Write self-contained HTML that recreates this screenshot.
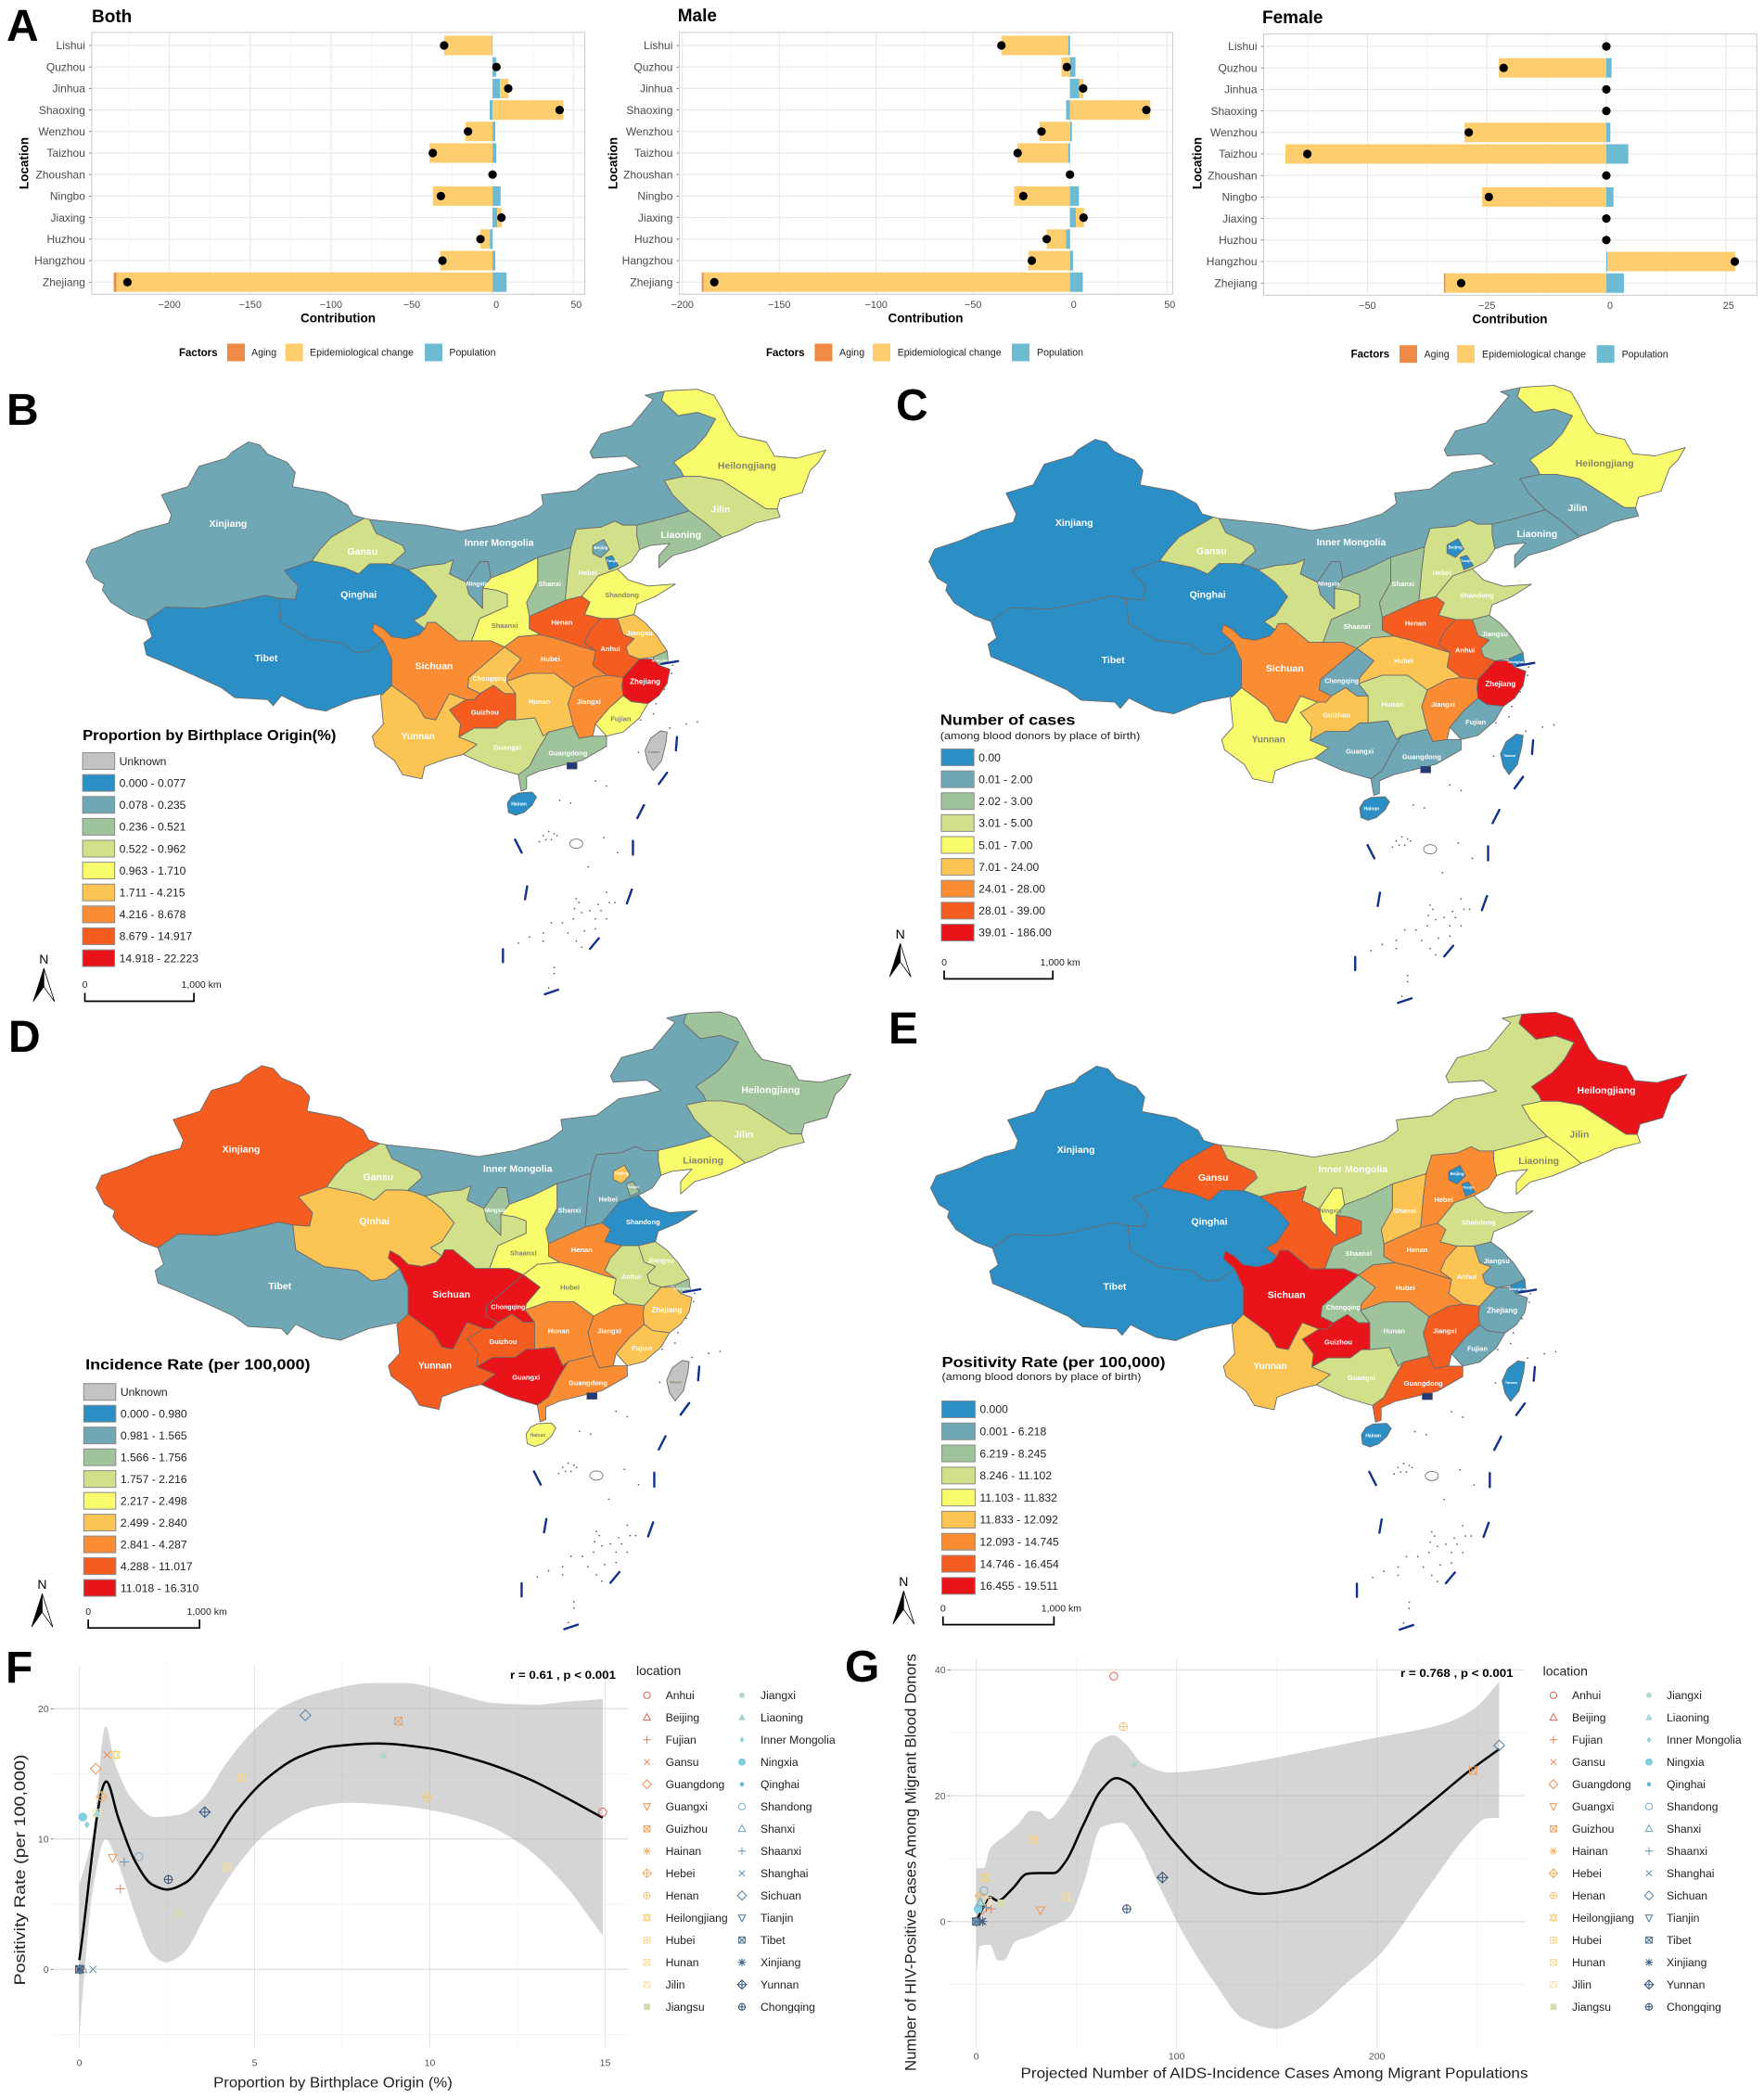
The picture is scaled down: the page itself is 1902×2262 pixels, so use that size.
<!DOCTYPE html>
<html lang="en">
<head>
<meta charset="utf-8">
<title>HIV burden among migrant blood donors in China</title>
<style>
html,body{margin:0;padding:0;background:#fff;}
svg{display:block;font-family:"Liberation Sans",sans-serif;}
</style>
</head>
<body>
<svg id="fig" xmlns="http://www.w3.org/2000/svg" width="1902" height="2262" viewBox="0 0 1902 2262">
  <rect width="1902" height="2262" fill="#fff"></rect>
  <g id="panel-a"></g>
  <g id="panel-b"></g>
  <g id="panel-c"></g>
  <g id="panel-d"></g>
  <g id="panel-e"></g>
  <g id="panel-f"></g>
  <g id="panel-g"></g>
  <g id="panel-letters"></g>
</svg>
<script>
/* ---------- Panel A data ---------- */
const cities = ['Lishui','Quzhou','Jinhua','Shaoxing','Wenzhou','Taizhou','Zhoushan','Ningbo','Jiaxing','Huzhou','Hangzhou','Zhejiang'];
const factorNames = ['Aging','Epidemiological change','Population'];
const bothTicks = [-200,-150,-100,-50,0,50];
const bothPopulation = [-0.3,2.2,4.6,-1.8,1.7,2.3,0,5,2.9,-1.7,1.7,8.7];
const bothEpi = [-29.7,0.2,5.3,43.7,-16.7,-39,0,-37,2.7,-5.8,-32.4,-232.8];
const bothAging = [0,0,0,0,0,0,0,0,0,0,0,-1.7];
const bothNet = [-30,2.4,9.7,41.5,-15.2,-37,0,-32,5.5,-7.5,-31,-226];
const maleTicks = [-200,-150,-100,-50,0,50];
const malePopulation = [-1,2.8,4.8,-2,1,-1,0,4.6,3,-2,1.6,6.6];
const maleEpi = [-34.2,-4.4,2.2,41.4,-15.7,-26.2,0,-28.8,4.2,-10,-21.5,-189];
const maleAging = [0,0,0,0,0,0,0,0,0,0,0,-1];
const maleNet = [-35.4,-1.6,6.8,39.4,-14.7,-27,0,-24.1,7,-12,-19.7,-183.5];
const femaleTicks = [-50,-25,0,25];
const femalePopulation = [0,1.1,0,0,0.85,4.6,0,1.5,0,0,0.25,3.7];
const femaleEpi = [0,-22.5,0,0,-29.7,-67.2,0,-26,0,0,26.7,-33.7];
const femaleAging = [0,0,0,0,0,0,0,0,0,0,0,-0.3];
const femaleNet = [0,-21.5,0,0,-28.8,-62.6,0,-24.6,0,0,26.9,-30.4];

/* ---------- Map class values (index into the shared palette; 9 = unknown) ---------- */
const provinceNames = ['Xinjiang','Tibet','Qinghai','Gansu','Inner Mongolia','Heilongjiang','Jilin','Liaoning','Hebei','Shanxi','Shaanxi','Ningxia','Shandong','Henan','Jiangsu','Anhui','Shanghai','Zhejiang','Fujian','Jiangxi','Hubei','Chongqing','Sichuan','Yunnan','Guizhou','Hunan','Guangxi','Guangdong','Hainan','Taiwan','Beijing','Tianjin'];
const classesB = [1,0,0,3,1,4,3,2,3,2,4,1,4,7,5,7,2,8,4,6,6,5,6,5,7,5,3,2,0,9,1,0];
const classesC = [0,0,0,3,1,4,1,1,3,2,2,1,3,7,2,7,0,8,1,6,5,1,6,4,5,3,1,1,0,0,0,0];
const classesD = [7,1,5,3,1,2,3,4,1,1,4,2,0,6,3,3,2,5,5,6,4,8,8,7,7,6,8,6,4,9,5,2];
const classesE = [0,0,0,7,3,8,4,4,6,5,2,4,3,6,1,5,0,1,1,7,6,2,8,5,8,2,3,7,0,0,0,0];
const legendB = ['Unknown','0.000 - 0.077','0.078 - 0.235','0.236 - 0.521','0.522 - 0.962','0.963 - 1.710','1.711 - 4.215','4.216 - 8.678','8.679 - 14.917','14.918 - 22.223'];
const legendC = ['0.00','0.01 - 2.00','2.02 - 3.00','3.01 - 5.00','5.01 - 7.00','7.01 - 24.00','24.01 - 28.00','28.01 - 39.00','39.01 - 186.00'];
const legendD = ['Unknown','0.000 - 0.980','0.981 - 1.565','1.566 - 1.756','1.757 - 2.216','2.217 - 2.498','2.499 - 2.840','2.841 - 4.287','4.288 - 11.017','11.018 - 16.310'];
const legendE = ['0.000','0.001 - 6.218','6.219 - 8.245','8.246 - 11.102','11.103 - 11.832','11.833 - 12.092','12.093 - 14.745','14.746 - 16.454','16.455 - 19.511'];

/* ---------- Scatter data ---------- */
const scatterLocations = ['Anhui','Beijing','Fujian','Gansu','Guangdong','Guangxi','Guizhou','Hainan','Hebei','Henan','Heilongjiang','Hubei','Hunan','Jilin','Jiangsu','Jiangxi','Liaoning','Inner Mongolia','Ningxia','Qinghai','Shandong','Shanxi','Shaanxi','Shanghai','Sichuan','Tianjin','Tibet','Xinjiang','Yunnan','Chongqing'];
const fTicksX = [0,5,10,15];
const fTicksY = [0,10,20];
const fProportion = [14.93,0.02,1.17,0.79,0.47,0.95,9.1,0.01,0.64,9.93,1.04,4.62,4.22,0.5,2.84,8.68,0.51,0.22,0.1,0,1.7,0.1,1.28,0.39,6.45,0.03,0,0.01,3.58,2.54];
const fPositivity = [12.07,0,6.18,16.46,15.4,8.55,19.05,0,13.25,13.2,16.46,14.73,7.84,12,4.23,16.37,12,11.1,11.69,0,8.65,0,8.24,0,19.5,0,0,0,12.07,6.9];
const fLineX = [0,0.77,1.11,1.59,2.07,2.5,3.03,3.68,4.48,5.28,6.24,7.21,8.49,9.94,11.38,12.82,13.79,14.93];
const fLineY = [0.71,14.42,11.64,8.31,6.53,6.13,6.65,8.79,12.11,14.49,16.27,17.1,17.34,16.98,16.03,14.61,13.3,11.64];
const fUpperX = [0,0.39,0.75,1.03,1.51,2.15,2.87,3.52,4.16,4.96,5.92,7.05,8.33,9.29,10.58,11.86,12.99,13.95,14.93];
const fUpperY = [6.41,10.45,18.65,15.68,13.06,11.69,11.88,13.06,15.68,18.29,20.31,21.38,21.97,21.97,21.26,20.43,20.31,20.55,20.74];
const fLowerX = [0,0.14,0.39,0.75,1.11,1.59,2.07,2.47,2.95,3.68,4.48,5.44,6.73,7.69,8.97,10.26,11.54,12.66,13.79,14.93];
const fLowerY = [-4.99,-0.48,6.18,9.98,8.08,4.28,1.19,0.55,1.19,4.51,7.84,10.69,12.47,12.78,12.59,12.11,11.16,9.5,6.65,2.61];
const gTicksX = [0,100,200];
const gTicksY = [0,20,40];
const gProjected = [68.6,0,7.4,2,3,32,248,0,2,73.4,4.4,28.7,45,5.6,12.4,78.7,2,0.3,0.9,0,3.8,2,5,2.7,261,0,0,3.2,92.9,75.1];
const gPositive = [39,0,2,0,2,1.8,24,0,4.08,31,7,13,3.9,3.3,2.9,25,3.2,1.7,2,0,4.9,3,2.2,0,28,0,0,0,7,2];
const gLineX = [0,3.3,6.8,10.7,18,25.4,31.4,38.8,44.7,53.6,62.4,69.8,75.7,86.1,97.9,112.7,127.5,142.3,160,177.8,201.5,225.1,245.9,261];
const gLineY = [0,2.2,3.9,3.3,5.2,7.6,7.7,7.7,9.6,15.5,20.9,22.8,22.1,18,13,8.1,5.4,4.4,5.2,7.9,12.5,18.4,23.9,27.4];
const gUpperX = [0,3.8,6.8,13.6,21,26.9,31.4,36.4,43.2,50.6,59.5,68.3,74.3,83.1,96.4,112.7,136.4,166,195.6,234,248.8,261];
const gUpperY = [8.5,8.5,11.6,13.5,15.5,17.6,17.5,16.3,18.4,22.4,28.3,29.6,28.3,25.1,23.7,24.1,25.3,27.1,29,31.5,33.9,38.1];
const gLowerX = [0,1.8,6.8,10.7,13.6,19.5,28.4,35.8,46.2,53.6,62.4,72.8,80.2,92,103.8,118.6,133.4,149.7,166,183.7,201.5,225.1,245.9,254.7,261];
const gLowerY = [-8.4,-3.9,-3.7,-6.2,-6.2,-3.2,-2.2,-1,0.7,6.1,15,15.7,13,5.2,-2.2,-9.6,-15.5,-17.1,-15,-10.1,-5.2,5.2,14,16.4,16.5];

/* ---------- Helpers ---------- */
const NS = 'http://www.w3.org/2000/svg';
function mk(tag, attrs, parent) {
  const e = document.createElementNS(NS, tag);
  for (const k in attrs) e.setAttribute(k, attrs[k]);
  parent.appendChild(e);
  return e;
}
function txt(parent, x, y, s, size, o) {
  o = o || {};
  const a = {x: x, y: y, 'font-size': size, fill: o.fill || '#000', 'font-weight': o.bold ? 'bold' : 'normal', 'text-anchor': o.anchor || 'start'};
  if (o.mid) a.dy = '.35em';
  if (o.len) { a.textLength = o.len; a.lengthAdjust = 'spacingAndGlyphs'; }
  if (o.transform) a.transform = o.transform;
  const e = mk('text', a, parent);
  e.textContent = s;
  return e;
}
/* monotone cubic through points whose x runs in one direction */
function segs(p) {
  const n = p.length, s = [], m = [];
  for (let i = 0; i < n - 1; i++) s.push((p[i + 1][1] - p[i][1]) / (p[i + 1][0] - p[i][0]));
  m[0] = s[0];
  m[n - 1] = s[n - 2];
  for (let i = 1; i < n - 1; i++) {
    m[i] = s[i - 1] * s[i] <= 0 ? 0 : 2 * s[i - 1] * s[i] / (s[i - 1] + s[i]);
  }
  let d = '';
  for (let i = 0; i < n - 1; i++) {
    const dx = (p[i + 1][0] - p[i][0]) / 3;
    d += 'C' + (p[i][0] + dx).toFixed(1) + ' ' + (p[i][1] + m[i] * dx).toFixed(1) + ' ' +
         (p[i + 1][0] - dx).toFixed(1) + ' ' + (p[i + 1][1] - m[i + 1] * dx).toFixed(1) + ' ' +
         p[i + 1][0].toFixed(1) + ' ' + p[i + 1][1].toFixed(1);
  }
  return d;
}
function fmt(v) { return (v < 0 ? '\u2212' : '') + Math.abs(v); }

/* ---------- Panel A ---------- */
const gA = document.getElementById('panel-a');
const factorColors = {aging: '#ef8a47', epi: '#fdcd6e', pop: '#6dbad3'};
function decomposition(cfg, ticks, pop, epi, aging, net) {
  const g = mk('g', {}, gA);
  
  
  const X = v => cfg.zero + v * cfg.k;
  const Y = i => cfg.top0 + i * 23.2;
  const panelBg = mk('rect', {x: cfg.l, y: cfg.t, width: cfg.r - cfg.l, height: cfg.b - cfg.t, fill: '#fff'}, g);
  
  
  const step = ticks[1] - ticks[0];
  for (let v = ticks[0] - step; v <= ticks[ticks.length - 1] + step; v += step / 2) {
    if (X(v) < cfg.l || X(v) > cfg.r) continue;
    const major = ticks.indexOf(v) >= 0;
    const gl = mk('line', {x1: X(v), x2: X(v), y1: cfg.t, y2: cfg.b, stroke: major ? '#e6e6e6' : '#f1f1f1', 'stroke-width': major ? 1 : 0.7}, g);
    
    
  }
  cities.forEach((c, i) => {
    const gl = mk('line', {x1: cfg.l, x2: cfg.r, y1: Y(i), y2: Y(i), stroke: '#e9e9e9', 'stroke-width': 1.2}, g);
    
    
  });
  cities.forEach((c, i) => {
    let posEnd = 0, negEnd = 0;
    [['pop', pop[i]], ['epi', epi[i]], ['aging', aging[i]]].forEach(s => {
      const v = s[1];
      if (!v) return;
      let a, b;
      if (v > 0) { a = posEnd; b = posEnd + v; posEnd = b; } else { a = negEnd; b = negEnd + v; negEnd = b; }
      const bar = mk('rect', {x: Math.min(X(a), X(b)), y: Y(i) - 10.5, width: Math.abs(X(b) - X(a)), height: 21, fill: factorColors[s[0]]}, g);
      
      
    });
  });
  cities.forEach((c, i) => {
    const dot = mk('circle', {cx: X(net[i]), cy: Y(i), r: 4.6, fill: '#000'}, g);
    
    
    const tick = mk('line', {x1: cfg.l - 3, x2: cfg.l, y1: Y(i), y2: Y(i), stroke: '#666', 'stroke-width': 0.8}, g);
    
    
    const lab = txt(g, cfg.l - 7, Y(i), c, 12, {anchor: 'end', mid: true, fill: '#4a4a4a'});
    
    
  });
  const frame = mk('rect', {x: cfg.l, y: cfg.t, width: cfg.r - cfg.l, height: cfg.b - cfg.t, fill: 'none', stroke: '#c9c9c9', 'stroke-width': 1}, g);
  
  
  ticks.forEach(v => {
    const dx = v === 0 ? 4 : (v > 0 ? 3 : 0);
    const lab = txt(g, X(v) + dx, cfg.b + 11, fmt(v), 10.8, {anchor: 'middle', mid: true, fill: '#4a4a4a'});
    
    
  });
  const title = txt(g, cfg.titleX, cfg.titleY, cfg.title, 19, {bold: true, mid: true});
  
  
  const xt = txt(g, cfg.xTitleX, cfg.b + 25.5, 'Contribution', 13.5, {bold: true, anchor: 'middle', mid: true});
  
  
  const yt = txt(g, cfg.yTitleX, 176, 'Location', 13.5, {bold: true, anchor: 'middle', mid: true, transform: 'rotate(-90 ' + cfg.yTitleX + ' 176)'});
  
  
  const fh = txt(g, cfg.leg[0], cfg.legY, 'Factors', 11.5, {bold: true, mid: true});
  
  
  [factorColors.aging, factorColors.epi, factorColors.pop].forEach((col, i) => {
    const sw = mk('rect', {x: cfg.leg[1 + i * 2], y: cfg.legY - 9.5, width: 19, height: 19, fill: col}, g);
    
    
    const lt = txt(g, cfg.leg[2 + i * 2], cfg.legY, factorNames[i], 10.6, {mid: true, fill: '#222'});
    
    
  });
}
decomposition({key: 'both', title: 'Both', l: 98.9, r: 630.5, t: 35, b: 317.3, zero: 531.1, k: 1.742, top0: 49, titleX: 99, titleY: 17.5, xTitleX: 364.5, yTitleX: 26, legY: 380, leg: [193, 245, 271, 307.7, 334, 458, 484.4]}, bothTicks, bothPopulation, bothEpi, bothAging, bothNet);
decomposition({key: 'male', title: 'Male', l: 732.4, r: 1264.4, t: 35, b: 317.3, zero: 1153.7, k: 2.09, top0: 49, titleX: 730.7, titleY: 16.5, xTitleX: 998, yTitleX: 661, legY: 380, leg: [826, 878.4, 905, 941, 967.7, 1091, 1118]}, maleTicks, malePopulation, maleEpi, maleAging, maleNet);
decomposition({key: 'female', title: 'Female', l: 1362.5, r: 1894.3, t: 36.7, b: 318.3, zero: 1732, k: 5.15, top0: 50, titleX: 1361, titleY: 18.5, xTitleX: 1628, yTitleX: 1291, legY: 381.7, leg: [1456.6, 1509, 1535.6, 1571, 1598, 1721.7, 1748.6]}, femaleTicks, femalePopulation, femaleEpi, femaleAging, femaleNet);

/* ---------- Maps: shared outline geometry ---------- */
const palette = ['#2b8fc5','#6fa7b5','#9fc39a','#d2e08a','#f8fb6b','#fcc452','#fa8c33','#f45c20','#e81419','#c3c3c3'];
const outlines = {
 'Xinjiang':[380,165,400,172,415,195,450,215,465,240,460,275,520,290,560,320,570,345,590,353,530,400,510,430,495,458,445,482,470,520,465,553,435,550,410,543,340,565,300,575,230,572,195,605,165,590,130,560,115,530,118,515,100,500,85,460,95,430,140,410,180,385,235,365,240,345,222,295,270,275,290,225,340,205,350,190],
 'Tibet':[195,605,230,572,300,575,340,565,410,543,435,550,440,610,490,650,550,660,575,685,600,680,625,655,640,700,640,765,625,785,605,790,570,800,520,828,485,820,440,790,425,815,415,800,355,795,330,770,290,745,240,715,195,690,190,660,205,645],
 'Qinghai':[445,482,495,458,555,475,580,490,600,465,630,465,660,470,700,510,722,545,700,590,680,605,700,625,690,640,665,650,640,645,625,625,608,612,605,630,625,655,600,680,575,685,550,660,490,650,440,610,435,550,465,553,470,520],
 'Gansu':[590,353,600,356,612,390,660,420,665,435,640,465,670,480,700,470,735,465,752,455,745,490,775,510,780,540,805,575,805,525,830,530,850,540,850,570,825,585,800,600,785,655,760,655,720,610,705,610,700,625,680,605,700,590,722,545,700,510,660,470,630,465,600,465,580,490,555,475,495,458,510,430,530,400],
 'Inner Mongolia':[600,356,700,370,765,385,830,370,890,345,915,320,912,295,975,285,1015,245,1060,235,1090,225,1065,200,1005,205,1000,190,1020,145,1075,125,1115,60,1100,50,1135,40,1130,62,1160,100,1195,92,1228,108,1210,150,1190,180,1152,215,1165,235,1170,250,1135,260,1150,295,1180,335,1130,355,1085,370,1060,370,1045,360,1020,375,975,380,965,425,905,450,860,480,820,500,815,460,800,460,785,490,775,510,745,490,752,455,735,465,700,470,670,480,640,465,665,435,660,420,612,390],
 'Heilongjiang':[1130,62,1135,40,1150,38,1195,35,1225,50,1240,85,1255,125,1270,150,1320,165,1335,200,1375,205,1428,185,1415,215,1400,235,1385,290,1345,305,1340,330,1320,330,1280,295,1240,260,1200,250,1170,250,1165,235,1152,215,1190,180,1210,150,1228,108,1195,92,1160,100],
 'Jilin':[1135,260,1170,250,1200,250,1240,260,1280,295,1320,330,1340,330,1345,350,1300,365,1270,385,1240,400,1210,365,1180,335,1150,295],
 'Liaoning':[1180,335,1210,365,1240,400,1225,410,1190,430,1150,445,1125,475,1125,445,1145,415,1110,420,1090,430,1085,395,1085,370,1130,355],
 'Hebei':[975,380,1020,375,1045,360,1060,370,1085,370,1085,395,1090,430,1075,460,1050,478,1015,495,985,545,955,555,960,480,965,425],
 'Shanxi':[905,450,965,425,960,480,955,555,890,595,885,560,905,510],
 'Shaanxi':[905,450,905,510,885,560,890,595,890,625,910,640,870,645,845,670,820,655,785,655,800,600,825,585,850,570,850,540,830,530,805,525,820,500,860,480],
 'Ningxia':[775,510,785,490,800,460,815,460,820,500,805,525,805,575,780,540],
 'Shandong':[1015,495,1050,478,1070,505,1105,520,1155,515,1120,545,1085,565,1080,590,1050,600,1020,600,990,590,1000,560,985,545],
 'Henan':[890,595,955,555,985,545,1000,560,990,590,1020,600,1000,630,990,660,1010,680,985,670,940,650,910,640,890,625],
 'Jiangsu':[1050,600,1080,590,1100,610,1120,640,1140,680,1115,695,1090,700,1070,690,1065,670,1080,650,1060,640],
 'Anhui':[1020,600,1050,600,1060,640,1080,650,1065,670,1070,690,1090,700,1060,745,1030,740,1005,715,1010,680,990,660,1000,630],
 'Shanghai':[1115,695,1140,680,1142,705,1125,715,1115,700],
 'Zhejiang':[1090,700,1115,700,1125,715,1145,725,1140,760,1125,790,1105,810,1075,805,1060,790,1058,765,1060,745],
 'Fujian':[1060,790,1075,805,1105,810,1090,845,1060,880,1030,890,1010,860,1035,820],
 'Jiangxi':[970,770,1005,745,1030,740,1060,745,1058,765,1060,790,1035,820,1010,860,1005,890,980,895,970,865,960,810],
 'Hubei':[870,645,910,640,940,650,985,670,1010,680,1005,715,1030,740,1005,745,970,770,935,735,890,735,848,755,850,740,875,700,845,670],
 'Chongqing':[845,670,875,700,850,740,848,755,865,785,845,785,825,765,800,785,778,770,780,745],
 'Sichuan':[625,655,605,630,608,612,625,625,640,645,665,650,690,640,700,625,705,610,720,610,760,655,785,655,820,655,845,670,780,745,778,770,800,785,790,800,775,800,745,785,735,810,720,850,700,845,685,810,640,765,640,700],
 'Yunnan':[640,765,685,810,700,845,720,850,735,810,745,785,775,800,745,825,765,860,762,892,795,910,770,935,740,945,700,965,695,995,660,985,645,950,610,915,605,890,625,860,620,790,625,785],
 'Guizhou':[745,825,775,800,790,800,800,785,825,765,845,785,865,785,865,850,850,850,830,870,790,870,762,892,765,860],
 'Hunan':[865,785,848,755,890,735,935,735,970,770,960,810,970,865,925,880,915,890,900,845,865,850],
 'Guangxi':[762,892,790,870,830,870,850,850,865,850,900,845,915,890,925,880,905,925,890,965,870,985,820,965,770,935,795,910],
 'Guangdong':[925,880,970,865,980,895,1005,890,1030,890,1030,915,985,950,955,960,910,975,885,990,885,1020,875,1025,870,985,890,965,905,925],
 'Hainan':[870,1030,895,1028,903,1040,895,1060,880,1078,865,1085,852,1078,850,1055,858,1038],
 'Taiwan':[1128,877,1140,880,1138,905,1130,950,1115,975,1105,955,1100,925,1110,895],
 'Beijing':[1005,420,1025,405,1035,430,1020,450,1005,440],
 'Tianjin':[1028,450,1040,445,1052,470,1035,480]
};
const labelSpots = {'Xinjiang':[343,366,10.5],'Tibet':[412,697,10.5],'Qinghai':[580,540,10.5],'Gansu':[587,434,10.5],'Inner Mongolia':[835,413,10.5],'Heilongjiang':[1285,223,10.5],'Jilin':[1237,330,10.5],'Liaoning':[1165,393,10.5],'Hebei':[996,487,7.5],'Shanxi':[927,514,7.5],'Shaanxi':[845,617,7.5],'Ningxia':[795,514,6.5],'Shandong':[1058,542,7.5],'Henan':[949,609,7.5],'Jiangsu':[1090,635,7.5],'Anhui':[1037,674,7.5],'Shanghai':[1127,703,4],'Zhejiang':[1100,755,8],'Fujian':[1056,847,7.5],'Jiangxi':[998,805,7.5],'Hubei':[928,700,7.5],'Chongqing':[818,748,7],'Sichuan':[717,717,10.5],'Yunnan':[688,889,10],'Guizhou':[809,831,7.5],'Hunan':[908,805,7.5],'Guangxi':[850,918,7.5],'Guangdong':[960,931,7.5],'Hainan':[871,1057,5],'Taiwan':[1116,929,4],'Beijing':[1020,425,4.5],'Tianjin':[1040,458,4]};
const dashes = [[1130,712,1160,705],[1158,892,1156,925],[1140,980,1125,1008],[1098,1060,1086,1092],[1078,1148,1078,1182],[1076,1268,1067,1302],[1016,1388,1000,1414],[842,1415,842,1447],[942,1515,918,1526],[886,1260,882,1292],[864,1145,876,1177]];
const islets = [[1010,1000],[1030,1013],[965,1055],[945,1048],[915,1135],[925,1125],[935,1130],[930,1145],[920,1145],[940,1135],[908,1150],[1025,1140],[1050,1177],[997,1212],[975,1290],[980,1300],[972,1315],[985,1325],[1015,1305],[1035,1300],[1045,1300],[1030,1275],[1000,1320],[1010,1340],[1030,1340],[1020,1320],[970,1340],[950,1350],[930,1350],[915,1375],[960,1375],[990,1370],[1010,1365],[890,1385],[870,1400],[915,1395],[975,1395],[985,1410],[935,1460],[935,1475],[925,1510],[1145,870],[1175,860],[1195,855],[1088,930],[1092,850],[1115,835],[1150,715],[1148,735],[1135,775],[1120,810]];

function drawMap(cfg, classes) {
  const root = document.getElementById(cfg.id);
  const tx = (x) => cfg.ox + (cfg.ax + (x - 82) * cfg.m) / cfg.sx;
  const ty = (y) => cfg.oy + (cfg.ay + (y - 186) * cfg.m) / cfg.sy;
  const mapG = mk('g', {}, root);
  
  
  provinceNames.forEach((name, i) => {
    const c = outlines[name];
    const pts = [];
    for (let k = 0; k < c.length; k += 2) pts.push(tx(c[k]).toFixed(1) + ',' + ty(c[k + 1]).toFixed(1));
    const p = mk('polygon', {points: pts.join(' '), fill: palette[classes[i]], stroke: '#6b6b6b', 'stroke-width': 0.9, 'stroke-linejoin': 'round'}, mapG);
    
    
  });
  const hk = mk('rect', {x: tx(958), y: ty(955), width: 11, height: 7, fill: '#243a78', stroke: '#555', 'stroke-width': 0.5}, mapG);
  
  
  dashes.forEach(d => {
    const l = mk('line', {x1: tx(d[0]), y1: ty(d[1]), x2: tx(d[2]), y2: ty(d[3]), stroke: '#13308a', 'stroke-width': 2.4, 'stroke-linecap': 'round'}, mapG);
    
    
  });
  islets.forEach(d => {
    const c = mk('circle', {cx: tx(d[0]), cy: ty(d[1]), r: 0.9, fill: '#666'}, mapG);
    
    
  });
  const ring = mk('ellipse', {cx: tx(975), cy: ty(1155), rx: 7, ry: 5, fill: 'none', stroke: '#666', 'stroke-width': 0.8}, mapG);
  
  
  provinceNames.forEach((name, i) => {
    const s = labelSpots[name];
    const cls = classes[i];
    const col = (cls === 4 || cls === 9) ? '#85856a' : '#fff';
    const shown = (cfg.id === 'panel-d' && name === 'Qinghai') ? 'Qinhai' : name;
    const t = txt(mapG, tx(s[0]), ty(s[1]), shown, s[2], {anchor: 'middle', mid: true, fill: col, bold: true});
    
    
  });

  /* legend, drawn in reference-crop coordinates */
  const L = v => cfg.ox + v / cfg.sx;
  const T = v => cfg.oy + v / cfg.sy;
  const leg = mk('g', {}, root);
  
  
  const title = txt(leg, L(cfg.title[1]), T(cfg.title[3]), cfg.title[0], 16, {bold: true, len: (cfg.title[2] - cfg.title[1]) / cfg.sx});
  
  
  if (cfg.sub) {
    const sub = txt(leg, L(cfg.sub[0]), T(cfg.sub[2]), '(among blood donors by place of birth)', 11, {fill: '#222', len: (cfg.sub[1] - cfg.sub[0]) / cfg.sx});
    
    
  }
  cfg.labels.forEach((lab, i) => {
    const y = T(cfg.rows0 + i * cfg.rowStep);
    const colorIdx = cfg.unknownFirst ? (i === 0 ? 9 : i - 1) : i;
    const sw = mk('rect', {x: L(cfg.sw[0]), y: y - 9, width: (cfg.sw[1] - cfg.sw[0]) / cfg.sx, height: 18, fill: palette[colorIdx], stroke: '#8a8a8a', 'stroke-width': 1}, leg);
    
    
    const t = txt(leg, L(cfg.sw[1]) + 5, y, lab, 12.2, {mid: true, fill: '#222'});
    
    
  });
  /* north arrow */
  const nx = L(cfg.north[0]), ny = T(cfg.north[1]);
  const n = txt(root, nx, ny, 'N', 14, {anchor: 'middle', mid: true});
  
  
  const a0 = ny + 10, a1 = ny + 46, a2 = ny + 30;
  const left = mk('polygon', {points: nx + ',' + a0 + ' ' + (nx - 11.5) + ',' + a1 + ' ' + nx + ',' + a2, fill: '#000', stroke: '#000', 'stroke-width': 0.6}, root);
  
  
  const right = mk('polygon', {points: nx + ',' + a0 + ' ' + (nx + 11.5) + ',' + a1 + ' ' + nx + ',' + a2, fill: '#fff', stroke: '#000', 'stroke-width': 0.8}, root);
  
  
  /* scale bar */
  const sx0 = L(cfg.scale[0]), sx1 = L(cfg.scale[1]), sy = T(cfg.scale[2]);
  const bar = mk('polyline', {points: sx0 + ',' + (sy - 9) + ' ' + sx0 + ',' + sy + ' ' + sx1 + ',' + sy + ' ' + sx1 + ',' + (sy - 9), fill: 'none', stroke: '#000', 'stroke-width': 1.7}, root);
  
  
  const s0 = txt(root, sx0, sy - 18, '0', 10.5, {anchor: 'middle', mid: true, fill: '#222'});
  
  
  const s1 = txt(root, sx1 + 8, sy - 18, '1,000 km', 10.5, {anchor: 'middle', mid: true, fill: '#222'});
  
  
}
drawMap({id: 'panel-b', ox: 0, oy: 400, sx: 1.65, sy: 2.24, ax: 150, ay: 192, m: 0.98, title: ['Proportion by Birthplace Origin(%)', 147, 598, 892], labels: legendB, unknownFirst: true, rows0: 942, rowStep: 52.9, sw: [147, 204], north: [78, 1420], scale: [151, 345, 1522]}, classesB);
drawMap({id: 'panel-c', ox: 950, oy: 400, sx: 1.647, sy: 2.24, ax: 82, ay: 186, m: 1, title: ['Number of cases', 105, 345, 855], sub: [105, 460, 889], labels: legendC, unknownFirst: false, rows0: 933, rowStep: 52.9, sw: [107, 165], north: [34, 1360], scale: [112, 305, 1468]}, classesC);
drawMap({id: 'panel-d', ox: 0, oy: 1090, sx: 1.65, sy: 2.24, ax: 168, ay: 153, m: 1, title: ['Incidence Rate (per 100,000)', 152, 552, 866], labels: legendD, unknownFirst: true, rows0: 920, rowStep: 52.6, sw: [149, 206], north: [75, 1385], scale: [157, 355, 1490]}, classesD);
drawMap({id: 'panel-e', ox: 950, oy: 1090, sx: 1.647, sy: 2.24, ax: 85, ay: 154, m: 1, title: ['Positivity Rate  (per 100,000)', 108, 505, 860], sub: [108, 462, 892], labels: legendE, unknownFirst: false, rows0: 962, rowStep: 53.3, sw: [108, 167], north: [40, 1378], scale: [110, 307, 1482]}, classesE);

/* ---------- Panels F & G ---------- */
const markerShapes = ['circle','tri','plus','cross','diamond','itri','sqx','star','diaplus','cirplus','david','sqplus','sqx','sqtri','fsquare','fcircle','ftri','fdiamond','bigcircle','scircle','circle','tri','plus','cross','diamond','itri','sqx','star','diaplus','cirplus'];
const markerColors = ['#d8635c','#dc6a58','#e6825e','#ea8c60','#ea8e52','#eb9a56','#e8a262','#f0b468','#efb568','#f3c878','#f4cf7a','#f6d68f','#f6dca0','#f7e4b8','#d3dcb4','#b5d6c6','#a6d8d8','#96d2d8','#84cde0','#6cb8cc','#7ab0c4','#6ea4bc','#6498b4','#5c8cac','#54809f','#4c7496','#44688c','#3c5c84','#38547c','#345074'];
function markerPath(shape, x, y, r) {
  const c = (cx, cy, rr) => 'M' + (cx - rr) + ' ' + cy + 'a' + rr + ' ' + rr + ' 0 1 0 ' + 2 * rr + ' 0a' + rr + ' ' + rr + ' 0 1 0 ' + -2 * rr + ' 0Z';
  const plus = 'M' + (x - r) + ' ' + y + 'H' + (x + r) + 'M' + x + ' ' + (y - r) + 'V' + (y + r);
  const cross = 'M' + (x - r * .75) + ' ' + (y - r * .75) + 'L' + (x + r * .75) + ' ' + (y + r * .75) + 'M' + (x + r * .75) + ' ' + (y - r * .75) + 'L' + (x - r * .75) + ' ' + (y + r * .75);
  const tri = 'M' + x + ' ' + (y - r) + 'L' + (x + r * .9) + ' ' + (y + r * .7) + 'L' + (x - r * .9) + ' ' + (y + r * .7) + 'Z';
  const itri = 'M' + x + ' ' + (y + r) + 'L' + (x + r * .9) + ' ' + (y - r * .7) + 'L' + (x - r * .9) + ' ' + (y - r * .7) + 'Z';
  const dia = 'M' + x + ' ' + (y - r * 1.15) + 'L' + (x + r * 1.15) + ' ' + y + 'L' + x + ' ' + (y + r * 1.15) + 'L' + (x - r * 1.15) + ' ' + y + 'Z';
  const q = r * .8;
  const sq = 'M' + (x - q) + ' ' + (y - q) + 'H' + (x + q) + 'V' + (y + q) + 'H' + (x - q) + 'Z';
  switch (shape) {
    case 'circle': return c(x, y, r * .85);
    case 'tri': return tri;
    case 'plus': return plus;
    case 'cross': return cross;
    case 'diamond': return dia;
    case 'itri': return itri;
    case 'sqx': return sq + 'M' + (x - q) + ' ' + (y - q) + 'L' + (x + q) + ' ' + (y + q) + 'M' + (x + q) + ' ' + (y - q) + 'L' + (x - q) + ' ' + (y + q);
    case 'star': return plus + cross;
    case 'diaplus': return dia + plus;
    case 'cirplus': return c(x, y, r * .85) + plus;
    case 'david': return tri + itri;
    case 'sqplus': return sq + 'M' + (x - q) + ' ' + y + 'H' + (x + q) + 'M' + x + ' ' + (y - q) + 'V' + (y + q);
    case 'sqtri': return sq + 'M' + (x - q) + ' ' + (y + q) + 'L' + x + ' ' + (y - q) + 'L' + (x + q) + ' ' + (y + q);
    case 'fsquare': return sq;
    case 'fcircle': return c(x, y, r * .7);
    case 'ftri': return tri;
    case 'fdiamond': return 'M' + x + ' ' + (y - r * .8) + 'L' + (x + r * .6) + ' ' + y + 'L' + x + ' ' + (y + r * .8) + 'L' + (x - r * .6) + ' ' + y + 'Z';
    case 'bigcircle': return c(x, y, r * .95);
    case 'scircle': return c(x, y, r * .55);
  }
  return c(x, y, r);
}
const filledShapes = ['fsquare','fcircle','ftri','fdiamond','bigcircle','scircle'];

function scatter(cfg, xs, ys, lineX, lineY, upX, upY, loX, loY, ticksX, ticksY) {
  const root = document.getElementById(cfg.id);
  const X = cfg.X, Y = cfg.Y;
  const stepX = ticksX[1] - ticksX[0], stepY = ticksY[1] - ticksY[0];
  for (let v = ticksX[0]; v <= ticksX[ticksX.length - 1] + stepX; v += stepX / 2) {
    if (X(v) > cfg.r) continue;
    const major = ticksX.indexOf(v) >= 0;
    const gl = mk('line', {x1: X(v), x2: X(v), y1: cfg.t, y2: cfg.b, stroke: major ? '#e6e6e6' : '#f2f2f2', 'stroke-width': major ? 1 : 0.8}, root);
    
    
  }
  for (let v = ticksY[0] - stepY; v <= ticksY[ticksY.length - 1] + stepY / 2; v += stepY / 2) {
    if (Y(v) > cfg.b || Y(v) < cfg.t) continue;
    const major = ticksY.indexOf(v) >= 0;
    const gl = mk('line', {x1: cfg.l, x2: cfg.r, y1: Y(v), y2: Y(v), stroke: major ? '#e4e4e4' : '#f2f2f2', 'stroke-width': major ? 1.5 : 0.9}, root);
    
    
  }
  const up = upX.map((v, i) => [X(v), Y(upY[i])]);
  const lo = loX.map((v, i) => [X(v), Y(loY[i])]).reverse();
  const ribbon = mk('path', {d: 'M' + up[0][0] + ' ' + up[0][1] + segs(up) + 'L' + lo[0][0] + ' ' + lo[0][1] + segs(lo) + 'Z', fill: 'rgba(175,175,175,.52)'}, root);
  
  
  const ln = lineX.map((v, i) => [X(v), Y(lineY[i])]);
  const curve = mk('path', {d: 'M' + ln[0][0] + ' ' + ln[0][1] + segs(ln), fill: 'none', stroke: '#000', 'stroke-width': 2.5, 'stroke-linejoin': 'round'}, root);
  
  
  scatterLocations.forEach((loc, i) => {
    const sh = markerShapes[i], filled = filledShapes.indexOf(sh) >= 0;
    const m = mk('path', {d: markerPath(sh, X(xs[i]), Y(ys[i]), 5), fill: filled ? markerColors[i] : 'none', stroke: filled ? 'none' : markerColors[i], 'stroke-width': 1}, root);
    
    
  });
  ticksX.forEach(v => {
    const t = txt(root, X(v), cfg.xLabY, String(v), 10.5, {anchor: 'middle', mid: true, fill: '#555'});
    
    
  });
  ticksY.forEach(v => {
    const t = txt(root, cfg.l - 5, Y(v), String(v), 10.5, {anchor: 'end', mid: true, fill: '#555'});
    
    
    const tk = mk('line', {x1: cfg.l - 3, x2: cfg.l, y1: Y(v), y2: Y(v), stroke: '#666', 'stroke-width': 0.8}, root);
    
    
  });
  const xt = txt(root, cfg.xTitle[1], cfg.xTitle[2], cfg.xTitle[0], 16, {anchor: 'middle', mid: true, fill: '#222', len: cfg.xTitle[3]});
  
  
  const yt = txt(root, cfg.yTitle[1], cfg.yTitle[2], cfg.yTitle[0], 16.5, {anchor: 'middle', mid: true, fill: '#222', len: cfg.yTitle[3], transform: 'rotate(-90 ' + cfg.yTitle[1] + ' ' + cfg.yTitle[2] + ')'});
  
  
  const st = txt(root, cfg.stat[1], cfg.stat[2], cfg.stat[0], 11.5, {bold: true, mid: true, len: cfg.stat[3]});
  
  
  const lh = txt(root, cfg.leg[0], cfg.leg[1], 'location', 14, {mid: true, fill: '#222'});
  
  
  scatterLocations.forEach((loc, i) => {
    const col = i < 15 ? 0 : 1, row = i < 15 ? i : i - 15;
    const y = 1827.7 + row * 24;
    const sh = markerShapes[i], filled = filledShapes.indexOf(sh) >= 0;
    const m = mk('path', {d: markerPath(sh, cfg.leg[2 + col * 2], y, 4.2), fill: filled ? markerColors[i] : 'none', stroke: filled ? 'none' : markerColors[i], 'stroke-width': 1}, root);
    
    
    const t = txt(root, cfg.leg[3 + col * 2], y, loc, 12.2, {mid: true, fill: '#222'});
    
    
  });
}
scatter({id: 'panel-f', X: v => 85.5 + v * 37.8, Y: v => 2123.3 - v * 14.05, l: 57.6, r: 677, t: 1795, b: 2207, xLabY: 2224, xTitle: ['Proportion by Birthplace Origin (%)', 359, 2245, 257.6], yTitle: ['Positivity Rate (per 100,000)', 21, 2016, 249], stat: ['r = 0.61 , p < 0.001', 550, 1806, 114], leg: [686, 1801, 697.6, 717.6, 800, 820]}, fProportion, fPositivity, fLineX, fLineY, fUpperX, fUpperY, fLowerX, fLowerY, fTicksX, fTicksY);
scatter({id: 'panel-g', X: v => 1052.7 + v * 2.16, Y: v => 2071.7 - v * 6.78, l: 1024.6, r: 1644.4, t: 1788, b: 2207, xLabY: 2217, xTitle: ['Projected Number of AIDS-Incidence Cases Among Migrant Populations', 1374, 2235, 547], yTitle: ['Number of HIV-Positive Cases Among Migrant Blood Donors', 981.8, 2008, 450], stat: ['r = 0.768 , p < 0.001', 1510, 1804, 121.6], leg: [1663.6, 1801.7, 1675, 1695, 1778, 1797]}, gProjected, gPositive, gLineX, gLineY, gUpperX, gUpperY, gLowerX, gLowerY, gTicksX, gTicksY);

/* ---------- Panel letters ---------- */
const letters = [['A', 7, 44], ['B', 7, 458], ['C', 966, 453], ['D', 9, 1134], ['E', 958, 1125], ['F', 6, 1814], ['G', 911, 1813]];
const letterG = document.getElementById('panel-letters');
letters.forEach(l => {
  const t = txt(letterG, l[1], l[2], l[0], 48, {bold: true});
  
  
});
</script>
</body>
</html>
